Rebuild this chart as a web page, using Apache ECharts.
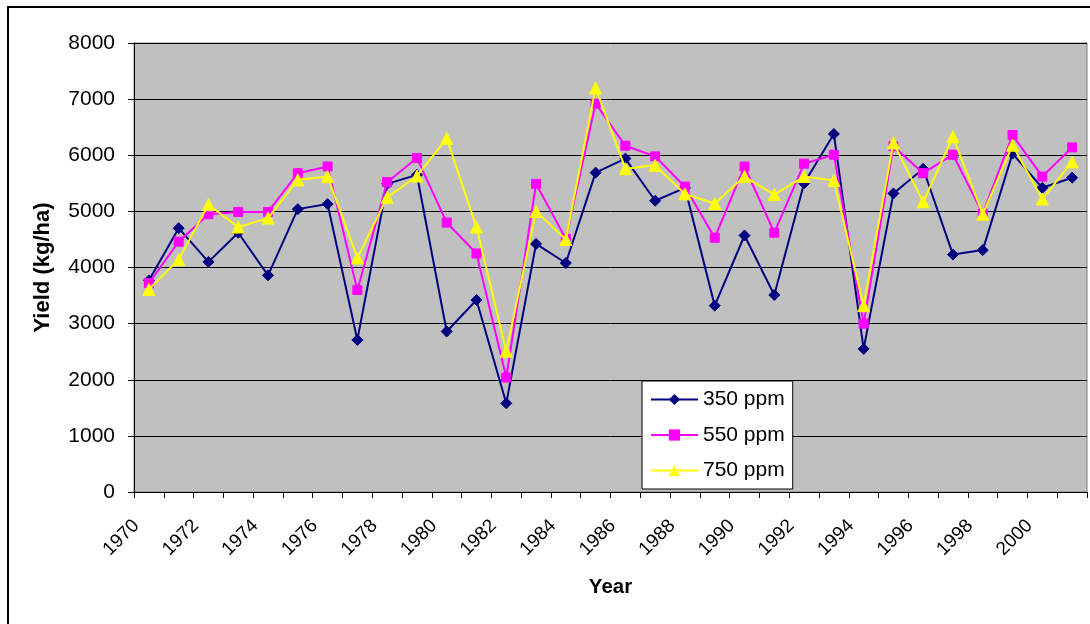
<!DOCTYPE html>
<html>
<head>
<meta charset="utf-8">
<script src="https://cdn.jsdelivr.net/npm/echarts@6/dist/echarts.min.js"></script>
<style>
  html, body { margin: 0; padding: 0; background: #ffffff; }
  #chart { width: 1090px; height: 624px; }
</style>
</head>
<body>
<div id="chart"></div>
<script>
const years = ['1970','1971','1972','1973','1974','1975','1976','1977','1978','1979',
  '1980','1981','1982','1983','1984','1985','1986','1987','1988','1989',
  '1990','1991','1992','1993','1994','1995','1996','1997','1998','1999','2000','2001'];

const ppm350 = [3770, 4700, 4100, 4620, 3860, 5040, 5130, 2710, 5490, 5650,
  2860, 3420, 1580, 4420, 4080, 5690, 5940, 5190, 5420, 3320,
  4570, 3510, 5500, 6380, 2550, 5320, 5760, 4230, 4310, 6030, 5420, 5600];

const ppm550 = [3720, 4460, 4950, 4990, 4990, 5680, 5800, 3600, 5520, 5950,
  4800, 4250, 2040, 5490, 4510, 6920, 6170, 5980, 5440, 4530,
  5800, 4620, 5850, 6010, 3000, 6160, 5680, 6010, 4960, 6360, 5620, 6140];

const ppm750 = [3610, 4140, 5120, 4720, 4880, 5560, 5620, 4170, 5250, 5630,
  6300, 4720, 2510, 5000, 4500, 7200, 5760, 5820, 5310, 5140,
  5620, 5300, 5620, 5550, 3320, 6220, 5170, 6330, 4950, 6180, 5220, 5880];

const yTicks = { min: 0, max: 8000, interval: 1000 };

const FONT = '"Liberation Sans", Arial, sans-serif';

const chart = echarts.init(document.getElementById('chart'), null, { renderer: 'canvas' });

chart.setOption({
  backgroundColor: '#ffffff',
  animation: false,
  textStyle: { fontFamily: FONT, color: '#000' },
  graphic: [{
    type: 'rect',
    shape: { x: 8, y: 7, width: 1100, height: 640 },
    style: { fill: 'none', stroke: '#000', lineWidth: 2 },
    silent: true,
    z: -10
  }],
  grid: {
    left: 134, top: 43, right: 3, bottom: 132,
    show: true,
    backgroundColor: '#C0C0C0',
    borderColor: '#808080',
    borderWidth: 1
  },
  legend: {
    orient: 'vertical',
    left: 642, top: 381,
    backgroundColor: '#ffffff',
    borderColor: '#000',
    borderWidth: 1,
    padding: [8, 8, 8, 8],
    itemWidth: 47,
    itemHeight: 14,
    itemGap: 14.5,
    textStyle: { fontFamily: FONT, fontSize: 21, color: '#000', lineHeight: 20 },
    data: ['350 ppm', '550 ppm', '750 ppm']
  },
  xAxis: {
    type: 'category',
    data: years,
    boundaryGap: true,
    name: 'Year',
    nameLocation: 'middle',
    nameGap: 85,
    nameTextStyle: { fontFamily: FONT, fontSize: 20.5, fontWeight: 'bold', color: '#000' },
    axisLine: { lineStyle: { color: '#000', width: 1 } },
    axisTick: { show: true, interval: 0, length: 6, lineStyle: { color: '#000' } },
    axisLabel: {
      interval: 1, rotate: 45, margin: 18,
      padding: [0, 18, 0, 0],
      fontFamily: FONT, fontSize: 19, color: '#000'
    },
    splitLine: { show: false }
  },
  yAxis: {
    type: 'value',
    min: yTicks.min, max: yTicks.max, interval: yTicks.interval,
    name: 'Yield (kg/ha)',
    nameLocation: 'middle',
    nameGap: 80,
    nameTextStyle: { fontFamily: FONT, fontSize: 22, fontWeight: 'bold', color: '#000' },
    axisLine: { show: true, lineStyle: { color: '#000', width: 1 } },
    axisTick: { show: true, length: 6, lineStyle: { color: '#000' } },
    axisLabel: {
      margin: 19, fontFamily: FONT, fontSize: 21, color: '#000',
      formatter: function (v) { return String(v); }
    },
    splitLine: { show: true, lineStyle: { color: '#000', width: 1 } }
  },
  series: [
    {
      name: '350 ppm', type: 'line', data: ppm350,
      symbol: 'diamond', symbolSize: 11,
      lineStyle: { color: '#000080', width: 2 },
      itemStyle: { color: '#000080', borderColor: '#000080' },
      z: 2
    },
    {
      name: '550 ppm', type: 'line', data: ppm550,
      symbol: 'rect', symbolSize: 9,
      lineStyle: { color: '#FF00FF', width: 2 },
      itemStyle: { color: '#FF00FF', borderColor: '#FF00FF' },
      z: 3
    },
    {
      name: '750 ppm', type: 'line', data: ppm750,
      symbol: 'triangle', symbolSize: 12,
      lineStyle: { color: '#FFFF00', width: 2 },
      itemStyle: { color: '#FFFF00', borderColor: '#FFFF00' },
      z: 4
    }
  ]
});
</script>
</body>
</html>
